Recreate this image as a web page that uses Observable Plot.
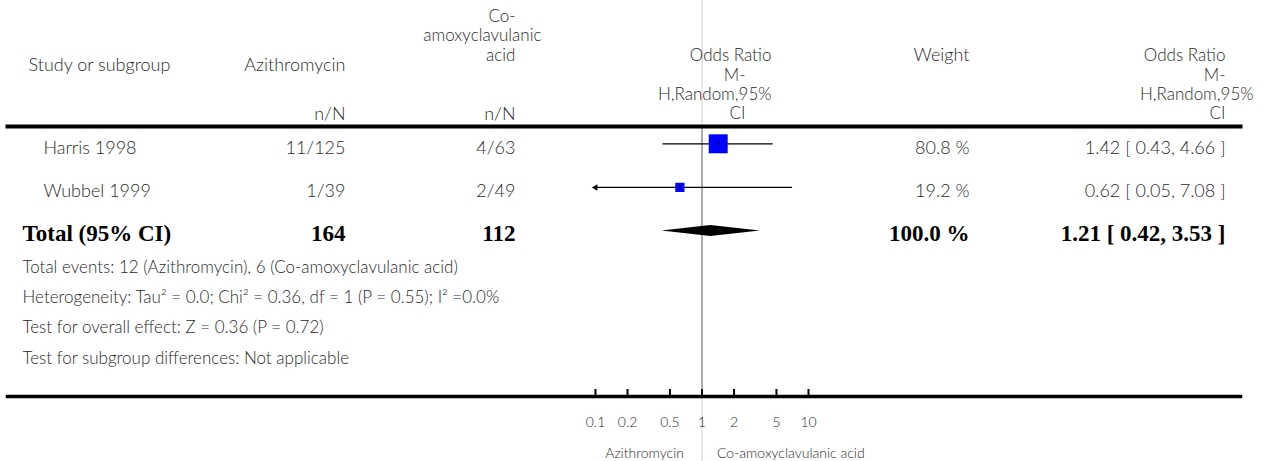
<!DOCTYPE html>
<html>
<head>
<meta charset="utf-8">
<script src="https://cdn.jsdelivr.net/npm/d3@7"></script>
<script src="https://cdn.jsdelivr.net/npm/@observablehq/plot@0.6"></script>
<style>
  html, body { margin: 0; padding: 0; background: #fff; }
</style>
</head>
<body>
<div id="chart"></div>
<script>
// Studies in the comparison: Azithromycin vs Co-amoxyclavulanic acid
const studies = ["Harris 1998", "Wubbel 1999"];
const aziEvents = [11, 1];
const aziTotals = [125, 39];
const coEvents = [4, 2];
const coTotals = [63, 49];
const weights = [80.8, 19.2];
const oddsRatios = [1.42, 0.62];
const ciLower = [0.43, 0.05];
const ciUpper = [4.66, 7.08];

// Pooled (random effects) estimate
const pooledOR = [1.21];
const pooledLower = [0.42];
const pooledUpper = [3.53];
const pooledWeight = [100.0];

// Log axis
const axisTicks = [0.1, 0.2, 0.5, 1, 2, 5, 10];
const axisTickLabels = ["0.1", "0.2", "0.5", "1", "2", "5", "10"];
const favoursLeft = "Azithromycin";
const favoursRight = "Co-amoxyclavulanic acid";

const footnotes = [
  "Total events: 12 (Azithromycin), 6 (Co-amoxyclavulanic acid)",
  "Heterogeneity: Tau\u00b2 = 0.0; Chi\u00b2 = 0.36, df = 1 (P = 0.55); I\u00b2 =0.0%",
  "Test for overall effect: Z = 0.36 (P = 0.72)",
  "Test for subgroup differences: Not applicable"
];

// ---- layout ----
const W = 1268, H = 461;
const ML = 7, MR = 28, MT = 126, MB = 65;
const frameH = H - MT - MB;
const XMIN = 0.1, XMAX = 10;
const SANS = "Lato, 'Noto Sans', sans-serif";
const SERIF = "'Liberation Serif', 'DejaVu Serif', serif";
const INK = "#2b2b2b";

// column anchors (right edges unless noted)
const col = {study: 28, studyRow: 43, totalLeft: 22, azi: 345, co: 515, orHead: 771, orHeadShort: 745,
             weight: 969, or: 1225, orWide: 1253, coWide: 541};
const footY = [267, 297, 327, 358];
const stackSize = 17; // wrapped header lines

const rows = studies.map((s, i) => ({
  row: i, study: s,
  azi: `${aziEvents[i]}/${aziTotals[i]}`,
  co: `${coEvents[i]}/${coTotals[i]}`,
  weight: weights[i], or: oddsRatios[i], lo: ciLower[i], hi: ciUpper[i]
}));
const totalRow = studies.length;
const totalAzi = d3.sum(aziTotals);
const totalCo = d3.sum(coTotals);

const fmtCI = (or, lo, hi) => `${or.toFixed(2)} [ ${lo.toFixed(2)}, ${hi.toFixed(2)} ]`;

// half height of the pooled diamond, in row units
const diamondHalf = 0.126;
const diamond = [
  {x: pooledLower[0], y1: totalRow, y2: totalRow},
  {x: pooledOR[0], y1: totalRow - diamondHalf, y2: totalRow + diamondHalf},
  {x: pooledUpper[0], y1: totalRow, y2: totalRow}
];

const sansText = {fontFamily: SANS, fontWeight: 300, fill: INK, lineAnchor: "middle"};

// a single line of table text placed relative to the top-left of the plot frame
function cell(str, x, y, opts = {}) {
  return Plot.text([str], {
    text: d => d, frameAnchor: "top-left",
    dx: x - ML, dy: y - MT,
    textAnchor: "end", fontSize: 18, ...sansText,
    ...opts
  });
}

// one column of per-study text
function column(accessor, x, opts = {}) {
  return Plot.text(rows, {
    y: "row", text: accessor, frameAnchor: "left", dx: x - ML, dy: 4,
    textAnchor: "end", fontSize: 18, ...sansText,
    ...opts
  });
}

function totalCell(str, x, opts = {}) {
  return Plot.text([str], {
    y: () => totalRow, text: d => d, frameAnchor: "left", dx: x - ML, dy: 3, lineAnchor: "middle",
    textAnchor: "end", fontSize: 23, fontFamily: SERIF, fontWeight: "bold", fill: "#000",
    ...opts
  });
}

const chart = Plot.plot({
  width: W, height: H,
  marginLeft: ML, marginRight: MR, marginTop: MT, marginBottom: MB,
  style: {background: "#fff", fontFamily: SANS, overflow: "visible"},
  x: {type: "log", domain: [XMIN, XMAX], range: [595, 808], axis: null},
  y: {domain: [0, totalRow], range: [143.3, 230.5], axis: null},
  r: {domain: [0, 100], range: [0, 11.9]},
  marks: [
    // line of no effect
    Plot.ruleX([1], {stroke: "#d6d6d6", strokeWidth: 1.2, insetTop: -MT, insetBottom: -MB}),
    Plot.ruleX([1], {stroke: "#8c8c8c", strokeWidth: 1.3}),

    // header rule and axis line
    Plot.frame({anchor: "top", stroke: "#000", strokeWidth: 4}),
    Plot.frame({anchor: "bottom", stroke: "#000", strokeWidth: 3.5}),

    // axis ticks and labels
    Plot.ruleX(axisTicks, {stroke: "#000", strokeWidth: 2, insetTop: frameH - 7}),
    Plot.text(axisTicks, {x: d => d, text: (d, i) => axisTickLabels[i], frameAnchor: "bottom", dy: 26,
      fontSize: 14, ...sansText}),
    Plot.text([favoursLeft], {x: () => 1, text: d => d, frameAnchor: "bottom", dx: -18, dy: 57,
      textAnchor: "end", fontSize: 14, ...sansText}),
    Plot.text([favoursRight], {x: () => 1, text: d => d, frameAnchor: "bottom", dx: 15, dy: 57,
      textAnchor: "start", fontSize: 14, ...sansText}),

    // confidence intervals
    Plot.ruleY(rows, {y: "row", x1: d => Math.max(d.lo, XMIN), x2: d => Math.min(d.hi, XMAX),
      stroke: "#000", strokeWidth: 1.3}),
    Plot.dot(rows.filter(d => d.lo < XMIN), {x: () => XMIN, y: "row", symbol: "triangle",
      r: 2.4, fill: "#000", rotate: -90}),
    Plot.dot(rows.filter(d => d.hi > XMAX), {x: () => XMAX, y: "row", symbol: "triangle",
      r: 2.4, fill: "#000", rotate: 90}),

    // study estimates, area proportional to weight
    Plot.dot(rows, {x: "or", y: "row", r: "weight", symbol: "square", fill: "#0000ff"}),
    Plot.ruleX(rows, {x: "or", y1: d => d.row - 0.06, y2: d => d.row + 0.06, stroke: "#000", strokeWidth: 1}),

    // pooled diamond
    Plot.areaY(diamond, {x: "x", y1: "y1", y2: "y2", fill: "#000"}),

    // header
    cell("Study or subgroup", col.study, 65, {textAnchor: "start"}),
    cell("Azithromycin", col.azi, 65),
    cell("n/N", col.azi, 114),
    cell("Co-", col.co, 16, {fontSize: stackSize}),
    cell("amoxyclavulanic", col.coWide, 35.5, {fontSize: stackSize}),
    cell("acid", col.co, 55, {fontSize: stackSize}),
    cell("n/N", col.co, 114),
    cell("Odds Ratio", col.orHead, 55, {fontSize: stackSize}),
    cell("M-", col.orHeadShort, 75, {fontSize: stackSize}),
    cell("H,Random,95%", col.orHead, 94.5, {fontSize: stackSize}),
    cell("CI", col.orHeadShort, 113, {fontSize: stackSize}),
    cell("Weight", col.weight, 55),
    cell("Odds Ratio", col.or, 55, {fontSize: stackSize}),
    cell("M-", col.or, 75, {fontSize: stackSize}),
    cell("H,Random,95%", col.orWide, 94.5, {fontSize: stackSize}),
    cell("CI", col.or, 113, {fontSize: stackSize}),

    // study rows
    column("study", col.studyRow, {textAnchor: "start"}),
    column("azi", col.azi),
    column("co", col.co),
    column(d => `${d.weight.toFixed(1)} %`, col.weight),
    column(d => fmtCI(d.or, d.lo, d.hi), col.or),

    // total row
    totalCell("Total (95% CI)", col.totalLeft, {textAnchor: "start"}),
    totalCell(String(totalAzi), col.azi),
    totalCell(String(totalCo), col.co),
    totalCell(`${pooledWeight[0].toFixed(1)} %`, col.weight),
    totalCell(fmtCI(pooledOR[0], pooledLower[0], pooledUpper[0]), col.or),

    // footnotes
    ...footnotes.map((t, i) => cell(t, col.totalLeft, footY[i], {textAnchor: "start", fontSize: 17}))
  ]
});

document.getElementById("chart").appendChild(chart);
</script>
</body>
</html>
